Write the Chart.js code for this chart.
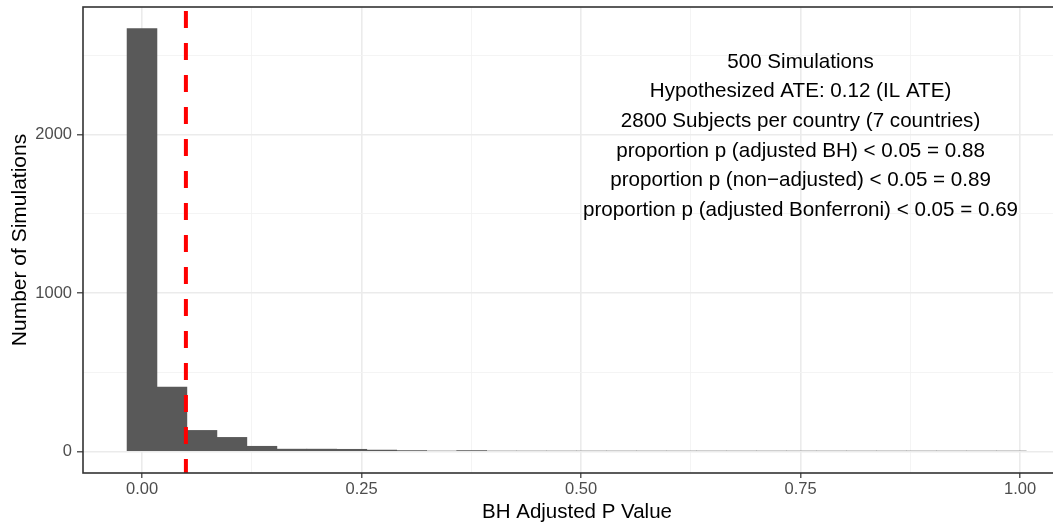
<!DOCTYPE html>
<html>
<head>
<meta charset="utf-8">
<script src="https://cdn.jsdelivr.net/npm/chart.js@4.4.1/dist/chart.umd.min.js"></script>
<style>
  html, body { margin: 0; padding: 0; background: #ffffff; overflow: hidden; }
  #wrap { width: 1080px; height: 525px; position: relative; }
</style>
</head>
<body>
<div id="wrap"><canvas id="c" width="1080" height="525"></canvas></div>
<script>
// ---- data ----
const binCenters = [0.0000, 0.0341, 0.0683, 0.1024, 0.1366, 0.1707, 0.2048, 0.2390, 0.2731, 0.3072,
                    0.3414, 0.3755, 0.4097, 0.4438, 0.4779, 0.5121, 0.5462, 0.5803, 0.6145, 0.6486,
                    0.6828, 0.7169, 0.7510, 0.7852, 0.8193, 0.8534, 0.8876, 0.9217, 0.9559, 0.9900];
const counts = [2670, 410, 137, 93, 37, 19, 19, 18, 13, 10,
                7, 10, 7, 7, 7, 7, 7, 7, 7, 7,
                7, 7, 7, 7, 7, 7, 7, 7, 7, 7];
const xMajorTicks = [0, 0.25, 0.5, 0.75, 1.0];
const xMinorTicks = [0.125, 0.375, 0.625, 0.875];
const yMajorTicks = [0, 1000, 2000];
const yMinorTicks = [500, 1500, 2500];
const thresholdValue = 0.05;
const annotationLines = [
  "500 Simulations",
  "Hypothesized ATE: 0.12 (IL ATE)",
  "2800 Subjects per country (7 countries)",
  "proportion p (adjusted BH) < 0.05 = 0.88",
  "proportion p (non\u2212adjusted) < 0.05 = 0.89",
  "proportion p (adjusted Bonferroni) < 0.05 = 0.69"
];
const annotationX = 0.75;
const annotationY = 1990;
const xTitle = "BH Adjusted P Value";
const yTitle = "Number of Simulations";

// ---- styling ----
const FONT = "'Liberation Sans', Arial, Helvetica, sans-serif";
const isMajorX = v => xMajorTicks.some(m => Math.abs(m - v) < 1e-9);
const isMajorY = v => yMajorTicks.some(m => Math.abs(m - v) < 1e-9);

const overlayPlugin = {
  id: 'overlay',
  afterDatasetsDraw(chart) {
    const { ctx, chartArea, scales } = chart;
    const x = scales.x, y = scales.y;
    // dashed threshold line
    ctx.save();
    ctx.beginPath();
    ctx.rect(chartArea.left, chartArea.top, chartArea.right - chartArea.left, chartArea.bottom - chartArea.top);
    ctx.clip();
    const px = x.getPixelForValue(thresholdValue);
    ctx.strokeStyle = '#FF0000';
    ctx.lineWidth = 4;
    ctx.setLineDash([17, 15]);
    ctx.lineDashOffset = 28;
    ctx.beginPath();
    ctx.moveTo(px, chartArea.top);
    ctx.lineTo(px, chartArea.bottom);
    ctx.stroke();
    ctx.restore();

    // annotation text
    ctx.save();
    ctx.fillStyle = '#000000';
    ctx.font = '20.6px ' + FONT;
    ctx.textAlign = 'center';
    ctx.textBaseline = 'middle';
    const cx = x.getPixelForValue(annotationX);
    const cy = y.getPixelForValue(annotationY);
    const lh = 29.6;
    const n = annotationLines.length;
    annotationLines.forEach((t, i) => {
      ctx.fillText(t, cx, cy + (i - (n - 1) / 2) * lh);
    });
    ctx.restore();

    // panel border
    ctx.save();
    ctx.strokeStyle = '#333333';
    ctx.lineWidth = 1.6;
    ctx.strokeRect(chartArea.left, chartArea.top, chartArea.right - chartArea.left, chartArea.bottom - chartArea.top);
    ctx.restore();
  }
};

new Chart(document.getElementById('c'), {
  type: 'bar',
  data: {
    datasets: [{
      data: binCenters.map((c, i) => ({ x: c, y: counts[i] })),
      backgroundColor: '#595959',
      borderWidth: 0,
      barPercentage: 1.02,
      categoryPercentage: 1.0,
      grouped: false
    }]
  },
  options: {
    responsive: false,
    animation: false,
    devicePixelRatio: 1,
    layout: { padding: { left: 0, top: 7, right: 9, bottom: 0 } },
    plugins: { legend: { display: false }, tooltip: { enabled: false } },
    scales: {
      x: {
        type: 'linear',
        offset: false,
        min: -0.0672,
        max: 1.058,
        afterBuildTicks(scale) {
          scale.ticks = xMajorTicks.concat(xMinorTicks).sort((a, b) => a - b).map(v => ({ value: v }));
        },
        afterFit(scale) {
          scale.height = 52;
          scale.paddingLeft = 0; scale.paddingRight = 0;
          scale.paddingTop = 0; scale.paddingBottom = 0;
        },
        ticks: {
          autoSkip: false,
          maxRotation: 0,
          padding: 2,
          color: '#4D4D4D',
          font: { family: FONT, size: 16.5 },
          callback: v => isMajorX(v) ? v.toFixed(2) : ''
        },
        grid: {
          offset: false,
          drawTicks: true,
          tickLength: 5,
          tickWidth: 1.2,
          tickColor: ctx => (ctx.tick && isMajorX(ctx.tick.value)) ? '#333333' : 'rgba(0,0,0,0)',
          color: ctx => (ctx.tick && isMajorX(ctx.tick.value)) ? '#EBEBEB' : '#F3F3F3',
          lineWidth: ctx => (ctx.tick && isMajorX(ctx.tick.value)) ? 1.6 : 0.9
        },
        border: { display: false },
        title: {
          display: true,
          text: xTitle,
          color: '#000000',
          font: { family: FONT, size: 20.5 },
          padding: { top: 0, bottom: 0 }
        }
      },
      y: {
        type: 'linear',
        min: -133.5,
        max: 2803.5,
        afterBuildTicks(scale) {
          scale.ticks = yMajorTicks.concat(yMinorTicks).sort((a, b) => a - b).map(v => ({ value: v }));
        },
        afterFit(scale) {
          scale.width = 83;
          scale.paddingTop = 0; scale.paddingBottom = 0;
          scale.paddingLeft = 0; scale.paddingRight = 0;
        },
        ticks: {
          autoSkip: false,
          padding: 5,
          color: '#4D4D4D',
          font: { family: FONT, size: 16.5 },
          callback: v => isMajorY(v) ? String(v) : ''
        },
        grid: {
          drawTicks: true,
          tickLength: 6,
          tickWidth: 1.2,
          tickColor: ctx => (ctx.tick && isMajorY(ctx.tick.value)) ? '#333333' : 'rgba(0,0,0,0)',
          color: ctx => (ctx.tick && isMajorY(ctx.tick.value)) ? '#EBEBEB' : '#F3F3F3',
          lineWidth: ctx => (ctx.tick && isMajorY(ctx.tick.value)) ? 1.6 : 0.9
        },
        border: { display: false },
        title: {
          display: true,
          text: yTitle,
          color: '#000000',
          font: { family: FONT, size: 21 },
          padding: { top: 8, bottom: 0 }
        }
      }
    }
  },
  plugins: [overlayPlugin]
});
</script>
</body>
</html>
